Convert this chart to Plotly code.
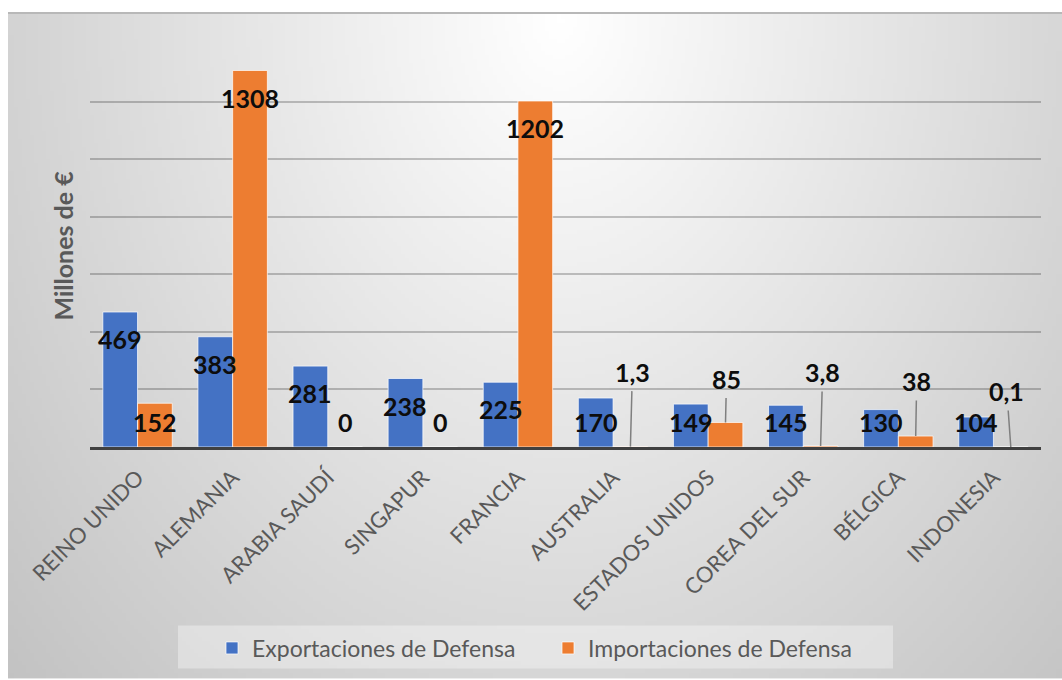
import base64
import struct
import zlib

import plotly.graph_objects as go

# ---- data -------------------------------------------------------------
paises = ["REINO UNIDO", "ALEMANIA", "ARABIA SAUDÍ", "SINGAPUR", "FRANCIA",
          "AUSTRALIA", "ESTADOS UNIDOS", "COREA DEL SUR", "BÉLGICA", "INDONESIA"]
exportaciones = [469, 383, 281, 238, 225, 170, 149, 145, 130, 104]
importaciones = [152, 1308, 0, 0, 1202, 1.3, 85, 3.8, 38, 0.1]

y_max = 1400
y_step = 200

# ---- styling ----------------------------------------------------------
AZUL = "#4472C4"
NARANJA = "#ED7D31"
GRIS_TXT = "#595959"
FONT = "Lato"

W, H = 1062, 680
ML, MR, MT, MB = 90, 21, 44, 232
PW, PH = W - ML - MR, H - MT - MB

BARGAP = 0.27
HALF = (1 - BARGAP) / 4          # offset of each bar centre from the category centre

# labels sit a fixed distance below the bar top, never lower than a floor
LABEL_DROP = 94
LABEL_FLOOR = 87

# small import values are labelled above the bar with a leader line
# (pixel offset of the label from the bar top)
callout_offsets = {5: (2, -75), 6: (1, -44), 7: (2, -74), 8: (1, -55), 9: (-4, -56)}


def fmt(v):
    return f"{v:g}".replace(".", ",")


def radial_png(w, h, x0, y0, x1, y1, cx, cy, rx, ry):
    """Grey radial gradient (white centre) encoded as a PNG data URI."""
    rows = b""
    for j in range(h):
        py = y0 + (j + 0.5) * (y1 - y0) / h
        row = bytearray([0])
        for i in range(w):
            px = x0 + (i + 0.5) * (x1 - x0) / w
            t = (((px - cx) / rx) ** 2 + ((py - cy) / ry) ** 2) ** 0.5
            t = min(t, 1.1)
            v = int(round(255 - 55 * t))
            row += bytes([v, v, v])
        rows += bytes(row)

    def chunk(tag, data):
        c = struct.pack(">I", len(data)) + tag + data
        return c + struct.pack(">I", zlib.crc32(tag + data) & 0xFFFFFFFF)

    png = b"\x89PNG\r\n\x1a\n"
    png += chunk(b"IHDR", struct.pack(">IIBBBBB", w, h, 8, 2, 0, 0, 0))
    png += chunk(b"IDAT", zlib.compress(rows, 9))
    png += chunk(b"IEND", b"")
    return "data:image/png;base64," + base64.b64encode(png).decode()


def px_to_paper_x(px):
    return (px - ML) / PW


def px_to_paper_y(py):
    return (H - MB - py) / PH


# chart area (grey panel) in page pixels
AX0, AY0, AX1, AY1 = 8, 13, 1062, 680
bg_src = radial_png(264, 167, AX0, AY0, AX1, AY1, 560, 20, 680, 880)

# legend panel in page pixels
LX0, LY0, LX1, LY1 = 178, 627, 893, 670

fig = go.Figure()

fig.add_trace(go.Bar(
    x=paises, y=exportaciones, name="Exportaciones de Defensa",
    marker=dict(color=AZUL, line=dict(color="rgba(255,255,255,0.7)", width=1)),
    hoverinfo="x+y",
))
fig.add_trace(go.Bar(
    x=paises, y=importaciones, name="Importaciones de Defensa",
    marker=dict(color=NARANJA, line=dict(color="rgba(255,255,255,0.7)", width=1)),
    hoverinfo="x+y",
))

annotations = []
label_font = dict(family=FONT, size=25, color="#0d0d0d")

for i, v in enumerate(exportaciones):
    annotations.append(dict(
        x=i - HALF, y=max(v - LABEL_DROP, LABEL_FLOOR), xref="x", yref="y",
        text=f"<b>{fmt(v)}</b>", showarrow=False, font=label_font,
    ))

for i, v in enumerate(importaciones):
    if i in callout_offsets:
        ax, ay = callout_offsets[i]
        annotations.append(dict(
            x=i + HALF, y=v, xref="x", yref="y",
            text=f"<b>{fmt(v)}</b>", font=label_font,
            showarrow=True, arrowhead=0, arrowwidth=1.5, arrowcolor="#7f7f7f",
            ax=ax, ay=ay, standoff=0, startstandoff=3,
        ))
    else:
        annotations.append(dict(
            x=i + HALF, y=max(v - LABEL_DROP, LABEL_FLOOR), xref="x", yref="y",
            text=f"<b>{fmt(v)}</b>", showarrow=False, font=label_font,
        ))

# y-axis title
annotations.append(dict(
    x=px_to_paper_x(62), y=px_to_paper_y(246), xref="paper", yref="paper",
    xanchor="center", yanchor="middle",
    text="<b>Millones de €</b>", textangle=-90, showarrow=False,
    font=dict(family=FONT, size=25, color=GRIS_TXT),
))

fig.update_layout(
    width=W, height=H,
    margin=dict(l=ML, r=MR, t=MT, b=MB, pad=0),
    paper_bgcolor="white",
    plot_bgcolor="rgba(0,0,0,0)",
    barmode="group", bargap=BARGAP, bargroupgap=0,
    font=dict(family=FONT, color=GRIS_TXT),
    showlegend=True,
    legend=dict(
        orientation="h", x=px_to_paper_x(212), y=px_to_paper_y(648),
        xanchor="left", yanchor="middle",
        bgcolor="rgba(0,0,0,0)", borderwidth=0,
        font=dict(family=FONT, size=23, color=GRIS_TXT),
        itemwidth=30, entrywidth=291, entrywidthmode="pixels",
    ),
    xaxis=dict(
        type="category", tickangle=-45,
        tickfont=dict(family=FONT, size=22, color=GRIS_TXT),
        ticklabelstandoff=6,
        showline=True, linecolor="#404040", linewidth=3,
        showgrid=False, ticks="", zeroline=False,
    ),
    yaxis=dict(
        range=[0, y_max], dtick=y_step, tick0=0,
        showticklabels=False, ticks="",
        showgrid=True, gridcolor="rgba(0,0,0,0.22)", gridwidth=1.5,
        zeroline=False, showline=False,
    ),
    annotations=annotations,
    images=[dict(
        source=bg_src, xref="paper", yref="paper",
        x=px_to_paper_x(AX0), y=px_to_paper_y(AY0),
        sizex=(AX1 - AX0) / PW, sizey=(AY1 - AY0) / PH,
        xanchor="left", yanchor="top", sizing="stretch", layer="below",
    )],
    shapes=[
        dict(
            type="line", xref="paper", yref="paper",
            x0=px_to_paper_x(AX0), x1=px_to_paper_x(AX1),
            y0=px_to_paper_y(AY0), y1=px_to_paper_y(AY0),
            line=dict(color="#b8b8b8", width=2),
        ),
        dict(
            type="rect", xref="paper", yref="paper", layer="below",
            x0=px_to_paper_x(LX0), x1=px_to_paper_x(LX1),
            y0=px_to_paper_y(LY1), y1=px_to_paper_y(LY0),
            fillcolor="rgba(255,255,255,0.35)", line=dict(width=0),
        ),
    ],
)

fig.write_html("out.html")
